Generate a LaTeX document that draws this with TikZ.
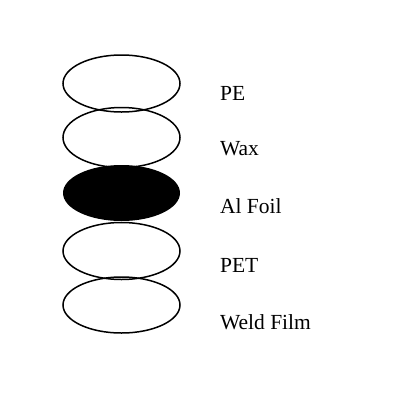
\documentclass[tikz,border=0pt]{standalone}
\usepackage{fontspec}
\setmainfont{Liberation Serif}
\begin{document}
\begin{tikzpicture}[x=1pt,y=-1pt,line width=1.5pt]
     \useasboundingbox (0,0) rectangle (408,400);
     \draw (121.5,83.5) ellipse (58.5 and 28.5);
     \draw (121.5,137.5) ellipse (58.5 and 30);
     \fill (121.5,193) ellipse (58.5 and 28);
     \draw (121.5,251) ellipse (58.5 and 28.5);
     \draw (121.5,305) ellipse (58.5 and 28);
     \node[anchor=west,font=\fontsize{21.5}{22}\selectfont] (pe) at (216,93) {PE};
     \node[anchor=west,font=\fontsize{21.5}{22}\selectfont] (wax) at (216,149) {Wax};
     \node[anchor=west,font=\fontsize{21.5}{22}\selectfont] (foil) at (216,206) {Al Foil};
     \node[anchor=west,font=\fontsize{21.5}{22}\selectfont] (pet) at (216,265) {PET};
     \node[anchor=west,font=\fontsize{21.5}{22}\selectfont] (weld) at (216,322) {Weld Film};
   \end{tikzpicture}
\end{document}
